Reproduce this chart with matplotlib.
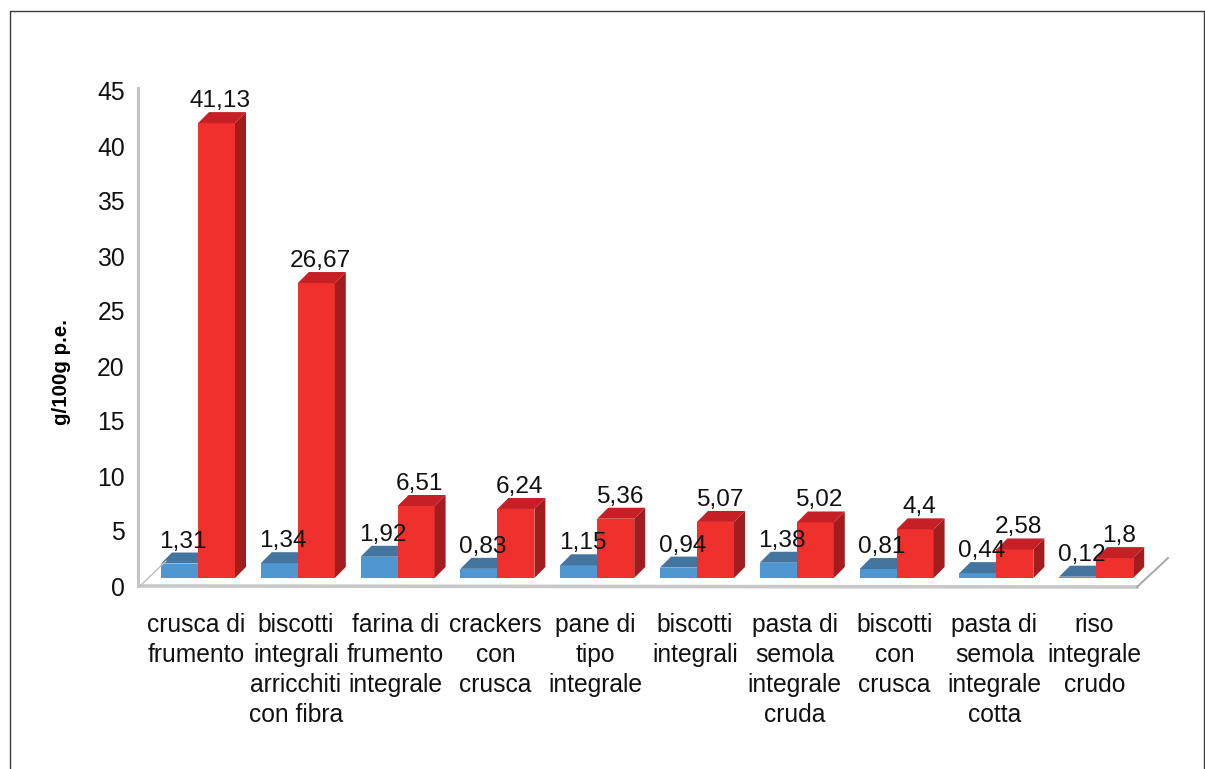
import matplotlib
matplotlib.use("Agg")
import matplotlib.pyplot as plt
from matplotlib.lines import Line2D

plt.rcParams["font.family"] = ["Liberation Sans", "DejaVu Sans"]

labels = [
    "crusca di\nfrumento",
    "biscotti\nintegrali\narricchiti\ncon fibra",
    "farina di\nfrumento\nintegrale",
    "crackers\ncon\ncrusca",
    "pane di\ntipo\nintegrale",
    "biscotti\nintegrali",
    "pasta di\nsemola\nintegrale\ncruda",
    "biscotti\ncon\ncrusca",
    "pasta di\nsemola\nintegrale\ncotta",
    "riso\nintegrale\ncrudo",
]
blue_vals = [1.31, 1.34, 1.92, 0.83, 1.15, 0.94, 1.38, 0.81, 0.44, 0.12]
red_vals = [41.13, 26.67, 6.51, 6.24, 5.36, 5.07, 5.02, 4.4, 2.58, 1.8]
y_ticks = [0, 5, 10, 15, 20, 25, 30, 35, 40, 45]

W, H = 1205, 769
# pixel layout of the picture
STEP = 99.8       # px between categories
FIRST = 198       # px of the first red bar's left edge
BASE = 578        # px of the bars' front bottom
UNIT = 11.06      # px per g/100g on the bars
WALL_UNIT = 11.0  # px per g/100g on the back wall scale
BAR_W = 37 / STEP
DX = 11 / STEP    # depth of the fake 3d
DY = 11 / UNIT


def px_line(xs, ys, **kw):
    # decoration lines in picture pixels, y going down
    fig.add_artist(Line2D([x / W for x in xs], [1 - y / H for y in ys],
                          transform=fig.transFigure, **kw))


def bar3d(ax, x, val, front, top, side=None):
    ax.bar(x, val, width=BAR_W, align="edge", color=front, zorder=3)
    ax.fill([x, x + DX, x + BAR_W + DX, x + BAR_W],
            [val, val + DY, val + DY, val], color=top, lw=0, zorder=3)
    if side:
        ax.fill([x + BAR_W, x + BAR_W + DX, x + BAR_W + DX, x + BAR_W],
                [0, DY, val + DY, val], color=side, lw=0, zorder=3)


fig = plt.figure(figsize=(W / 100, H / 100), dpi=100)

# back wall carries the value scale
wall = fig.add_axes([138 / W, (H - 586) / H, 0.5, 498 / H])
wall.set_ylim(0, 498 / WALL_UNIT)
wall.set_yticks(y_ticks)
wall.set_xticks([])
wall.tick_params(axis="y", length=0, pad=9.5, labelsize=17.8, labelcolor="#111111")
for s in ["top", "right", "bottom"]:
    wall.spines[s].set_visible(False)
wall.spines["left"].set_color("#C4C4C4")
wall.spines["left"].set_linewidth(2.2)
wall.patch.set_alpha(0)
wall.set_ylabel("g/100g p.e.", fontsize=14.8, fontweight="bold")
wall.yaxis.set_label_coords((71 - 138) / (0.5 * W), (586 - 372) / 498)

# front axes for the bars, baseline on y=0
ax = fig.add_axes([0, (H - BASE) / H, 1, BASE / H])
ax.set_xlim(-FIRST / STEP, (W - FIRST) / STEP)
ax.set_ylim(0, BASE / UNIT)
ax.patch.set_alpha(0)
for s in ax.spines.values():
    s.set_visible(False)
ax.set_yticks([])

x_pos = list(range(len(labels)))
ax.set_xticks([x - 2 / STEP for x in x_pos])
ax.set_xticklabels(labels, fontsize=17.7, linespacing=1.3, color="#111111")
ax.tick_params(axis="x", length=0, pad=25.5)

for x, b, r in zip(x_pos, blue_vals, red_vals):
    bar3d(ax, x - BAR_W, b, "#4E97D1", "#44759E")
    bar3d(ax, x, r, "#F0302D", "#C62026", "#A31C1E")

for x, b, r in zip(x_pos, blue_vals, red_vals):
    ax.annotate(str(b).replace(".", ","), (x - BAR_W / 2, b + DY), xytext=(2.8, 3.6),
                textcoords="offset points", ha="center", va="baseline",
                fontsize=17.6, color="#111111", zorder=5)
    ax.annotate(str(r).replace(".", ","), (x + BAR_W / 2, r + DY), xytext=(2.8, 3.6),
                textcoords="offset points", ha="center", va="baseline",
                fontsize=17.6, color="#111111", zorder=5)

# floor of the 3d box
px_line([140, 1137], [586, 587], color="#C8C8C8", lw=2.6, zorder=1)
px_line([140, 166], [586, 561], color="#BDBDBD", lw=1.0, zorder=1)
px_line([1137, 1168], [587, 558], color="#A8A8A8", lw=1.4, zorder=1)

# outer frame, open at the bottom
px_line([10, 10, 1204, 1204], [H, 11, 11, H], color="#3A3A3A", lw=1.0)

fig.savefig("out.png", dpi=100)
